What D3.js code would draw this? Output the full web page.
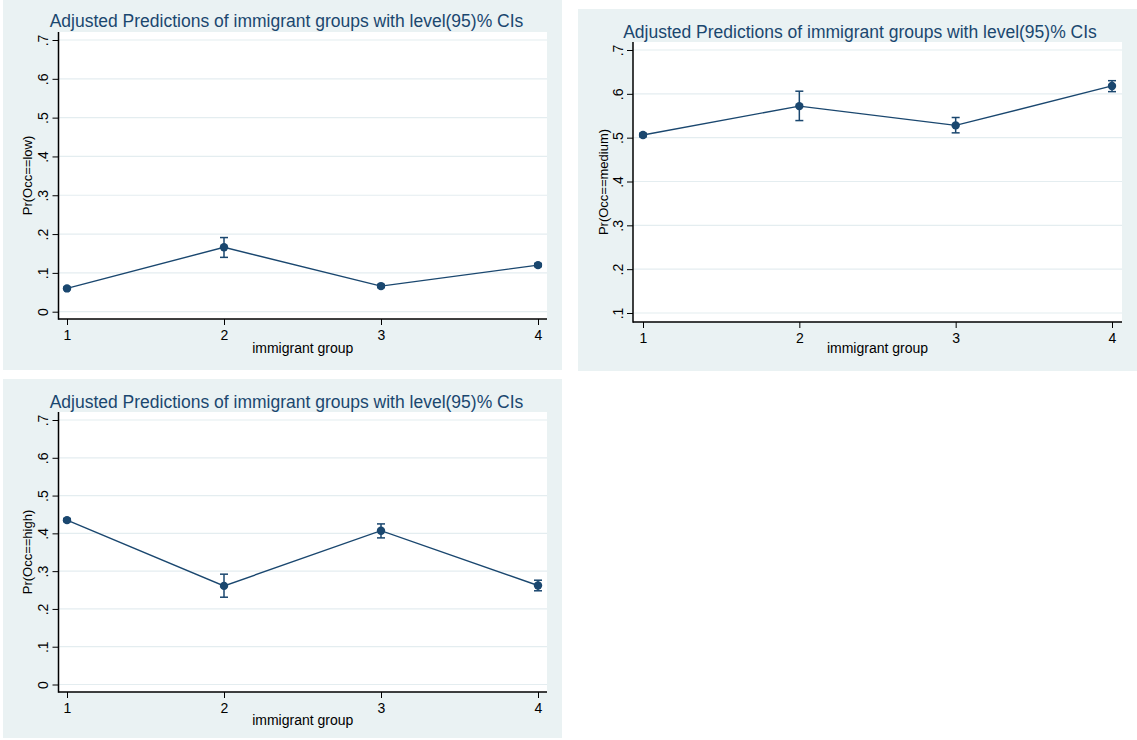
<!DOCTYPE html>
<html>
<head>
<meta charset="utf-8">
<script src="https://cdn.jsdelivr.net/npm/d3@7"></script>
<style>
  html, body { margin: 0; padding: 0; background: #ffffff; }
  svg { display: block; font-family: "Liberation Sans", Arial, Helvetica, sans-serif; }
</style>
</head>
<body>
<svg id="chart" width="1137" height="740"></svg>
<script>
// Immigrant groups on the x axis
const groups = [1, 2, 3, 4];

// Predicted probabilities with 95% confidence bounds, one set per outcome level
const lowMargin = [0.060, 0.166, 0.066, 0.120];
const lowLower  = [0.057, 0.140, 0.062, 0.116];
const lowUpper  = [0.063, 0.191, 0.070, 0.124];

const mediumMargin = [0.506, 0.572, 0.528, 0.618];
const mediumLower  = [0.502, 0.539, 0.511, 0.605];
const mediumUpper  = [0.510, 0.606, 0.546, 0.630];

const highMargin = [0.435, 0.261, 0.407, 0.262];
const highLower  = [0.431, 0.231, 0.388, 0.248];
const highUpper  = [0.439, 0.292, 0.425, 0.276];

// Y tick values for each panel
const lowTicks    = [0, 0.1, 0.2, 0.3, 0.4, 0.5, 0.6, 0.7];
const mediumTicks = [0.1, 0.2, 0.3, 0.4, 0.5, 0.6, 0.7];
const highTicks   = [0, 0.1, 0.2, 0.3, 0.4, 0.5, 0.6, 0.7];

const titleText = "Adjusted Predictions of immigrant groups with level(95)% CIs";
const xTitle = "immigrant group";

const navy = "#1a476f";
const regionBg = "#eaf2f3";
const gridColor = "#e4edf0";

const panels = [
  { yTitle: "Pr(Occ==low)", margin: lowMargin, lower: lowLower, upper: lowUpper,
    ticks: lowTicks, yDomain: [0, 0.7],
    bg: [3, 0, 562, 370], plot: [58.5, 32, 547, 319],
    xRange: [67, 538], yRange: [311.7, 40],
    titleX: 286.5, titleY: 27, yTitleX: 27, xTitleY: 353 },
  { yTitle: "Pr(Occ==medium)", margin: mediumMargin, lower: mediumLower, upper: mediumUpper,
    ticks: mediumTicks, yDomain: [0.1, 0.7],
    bg: [578, 9, 1137, 371], plot: [633, 42, 1122, 322],
    xRange: [643, 1112], yRange: [313, 50],
    titleX: 860, titleY: 38, yTitleX: 603, xTitleY: 353 },
  { yTitle: "Pr(Occ==high)", margin: highMargin, lower: highLower, upper: highUpper,
    ticks: highTicks, yDomain: [0, 0.7],
    bg: [3, 379, 562, 738], plot: [58.5, 412, 547, 692],
    xRange: [67, 538], yRange: [684.5, 420],
    titleX: 286.5, titleY: 408, yTitleX: 27, xTitleY: 725 }
];

const svg = d3.select("#chart");

const fmtY = v => v === 0 ? "0" : d3.format(".1f")(v).replace(/^0\./, ".");

panels.forEach(p => {
  const g = svg.append("g");
  const [bx0, by0, bx1, by1] = p.bg;
  const [px0, py0, px1, py1] = p.plot;

  // graph region and plot region
  g.append("rect").attr("x", bx0).attr("y", by0)
    .attr("width", bx1 - bx0).attr("height", by1 - by0).attr("fill", regionBg);
  g.append("rect").attr("x", px0).attr("y", py0)
    .attr("width", px1 - px0).attr("height", py1 - py0).attr("fill", "#ffffff");

  const x = d3.scaleLinear().domain([1, 4]).range(p.xRange);
  const y = d3.scaleLinear().domain(p.yDomain).range(p.yRange);

  // horizontal grid lines
  g.append("g").selectAll("line").data(p.ticks).join("line")
    .attr("x1", px0).attr("x2", px1)
    .attr("y1", d => y(d)).attr("y2", d => y(d))
    .attr("stroke", gridColor).attr("stroke-width", 1.2);

  // y axis
  const yAxis = g.append("g").attr("transform", `translate(${px0},0)`)
    .call(d3.axisLeft(y).tickValues(p.ticks).tickFormat(fmtY).tickSize(6).tickSizeOuter(0));
  yAxis.select(".domain").remove();
  yAxis.selectAll(".tick line").attr("stroke", "#000").attr("stroke-width", 1);
  yAxis.selectAll(".tick text")
    .attr("x", null).attr("dy", null)
    .attr("transform", "translate(-15.5,0) rotate(-90)")
    .attr("text-anchor", "middle")
    .attr("dy", "0.36em")
    .attr("font-size", 14).attr("fill", "#000")
    .attr("font-family", "Liberation Sans, Arial, sans-serif");
  g.append("line").attr("x1", px0).attr("x2", px0).attr("y1", py0).attr("y2", py1 + 0.75)
    .attr("stroke", "#000").attr("stroke-width", 1.5);

  // x axis
  const xAxis = g.append("g").attr("transform", `translate(0,${py1})`)
    .call(d3.axisBottom(x).tickValues(groups).tickFormat(d3.format("d")).tickSize(6).tickSizeOuter(0).tickPadding(5));
  xAxis.select(".domain").remove();
  xAxis.selectAll(".tick line").attr("stroke", "#000").attr("stroke-width", 1);
  xAxis.selectAll(".tick text")
    .attr("font-size", 14).attr("fill", "#000")
    .attr("font-family", "Liberation Sans, Arial, sans-serif");
  g.append("line").attr("x1", px0).attr("x2", px1).attr("y1", py1).attr("y2", py1)
    .attr("stroke", "#000").attr("stroke-width", 1.5);

  // titles
  g.append("text").attr("x", p.titleX).attr("y", p.titleY)
    .attr("text-anchor", "middle").attr("font-size", 17.5).attr("fill", navy)
    .text(titleText);
  g.append("text").attr("x", (px0 + px1) / 2).attr("y", p.xTitleY)
    .attr("text-anchor", "middle").attr("font-size", 14).attr("fill", "#000")
    .text(xTitle);
  g.append("text")
    .attr("transform", `translate(${p.yTitleX},${(py0 + py1) / 2}) rotate(-90)`)
    .attr("text-anchor", "middle").attr("dy", "0.36em")
    .attr("font-size", 13).attr("fill", "#000")
    .text(p.yTitle);

  const pts = groups.map((grp, i) => ({ grp, m: p.margin[i], lo: p.lower[i], hi: p.upper[i] }));

  // confidence intervals with caps
  const ci = g.append("g").attr("stroke", navy).attr("stroke-width", 1.5).attr("fill", "none");
  ci.selectAll("line.bar").data(pts).join("line").attr("class", "bar")
    .attr("x1", d => x(d.grp)).attr("x2", d => x(d.grp))
    .attr("y1", d => y(d.lo)).attr("y2", d => y(d.hi));
  ci.selectAll("line.capTop").data(pts).join("line").attr("class", "capTop")
    .attr("x1", d => x(d.grp) - 4).attr("x2", d => x(d.grp) + 4)
    .attr("y1", d => y(d.hi)).attr("y2", d => y(d.hi));
  ci.selectAll("line.capBot").data(pts).join("line").attr("class", "capBot")
    .attr("x1", d => x(d.grp) - 4).attr("x2", d => x(d.grp) + 4)
    .attr("y1", d => y(d.lo)).attr("y2", d => y(d.lo));

  // connecting line and markers
  g.append("path").datum(pts)
    .attr("d", d3.line().x(d => x(d.grp)).y(d => y(d.m)))
    .attr("fill", "none").attr("stroke", navy).attr("stroke-width", 1.4);
  g.append("g").selectAll("circle").data(pts).join("circle")
    .attr("cx", d => x(d.grp)).attr("cy", d => y(d.m)).attr("r", 4.2)
    .attr("fill", navy);
});
</script>
</body>
</html>
